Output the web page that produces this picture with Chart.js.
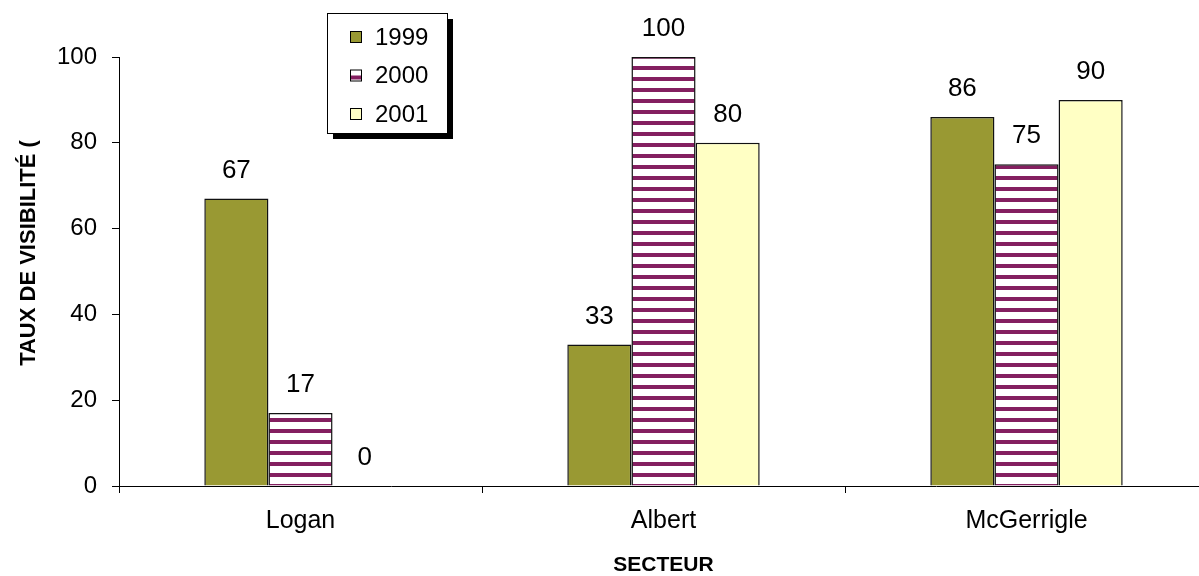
<!DOCTYPE html>
<html>
<head>
<meta charset="utf-8">
<script src="https://cdn.jsdelivr.net/npm/chart.js@4/dist/chart.umd.min.js"></script>
<style>
  html, body { margin: 0; padding: 0; background: #fff; overflow: hidden; }
  #wrap { width: 1208px; height: 576px; }
</style>
</head>
<body>
<div id="wrap"><canvas id="chart" width="1208" height="576"></canvas></div>
<script>
// Chart data
const sectors = ['Logan', 'Albert', 'McGerrigle'];
const years = ['1999', '2000', '2001'];
const values1999 = [67, 33, 86];
const values2000 = [17, 100, 75];
const values2001 = [0, 80, 90];
const yTicks = [0, 20, 40, 60, 80, 100];

const FONT = '"Liberation Sans", Arial, sans-serif';
const OLIVE = '#999933';
const PURPLE = '#841f60';
const CREAM = '#ffffc4';

// horizontal stripes for the 2000 series
function makeStripes() {
  const c = document.createElement('canvas');
  c.width = 8;
  c.height = 11;
  const g = c.getContext('2d');
  g.fillStyle = '#fff';
  g.fillRect(0, 0, 8, 11);
  g.fillStyle = PURPLE;
  g.fillRect(0, 0, 8, 4);
  return g.createPattern(c, 'repeat');
}
const stripes = makeStripes();

// value labels above each bar
const valueLabels = {
  id: 'valueLabels',
  afterDatasetsDraw(chart) {
    const ctx = chart.ctx;
    ctx.save();
    ctx.font = '26px ' + FONT;
    ctx.fillStyle = '#000';
    ctx.textAlign = 'center';
    ctx.textBaseline = 'middle';
    chart.data.datasets.forEach((ds, i) => {
      chart.getDatasetMeta(i).data.forEach((bar, j) => {
        ctx.fillText(String(ds.data[j]), bar.x, bar.y - 28);
      });
    });
    ctx.restore();
  }
};

// boxed legend with shadow + y title
const boxLegend = {
  id: 'boxLegend',
  afterDraw(chart) {
    const ctx = chart.ctx;
    ctx.save();
    // y axis title (cut off in the original)
    ctx.translate(29, 253);
    ctx.rotate(-Math.PI / 2);
    ctx.font = 'bold 22px ' + FONT;
    ctx.fillStyle = '#000';
    ctx.textAlign = 'center';
    ctx.textBaseline = 'middle';
    ctx.fillText('TAUX DE VISIBILITÉ (', 0, 0);
    ctx.restore();

    ctx.save();
    const x = 327, y = 13, w = 120, h = 120;
    ctx.fillStyle = '#000';
    ctx.fillRect(x + 6, y + 6, w, h);
    ctx.fillStyle = '#fff';
    ctx.fillRect(x, y, w, h);
    ctx.strokeStyle = '#000';
    ctx.lineWidth = 1;
    ctx.strokeRect(x + 0.5, y + 0.5, w, h);
    ctx.font = '24px ' + FONT;
    ctx.textBaseline = 'middle';
    chart.data.datasets.forEach((ds, i) => {
      const cy = 37 + i * 38.5;
      const sx = 350, sy = cy - 6;
      if (i === 1) {
        ctx.fillStyle = '#fff';
        ctx.fillRect(sx, sy, 12, 12);
        ctx.fillStyle = PURPLE;
        ctx.fillRect(sx, sy + 6, 12, 4);
      } else {
        ctx.fillStyle = ds.backgroundColor;
        ctx.fillRect(sx, sy, 12, 12);
      }
      ctx.strokeStyle = '#000';
      ctx.strokeRect(sx + 0.5, sy + 0.5, 11, 11);
      ctx.fillStyle = '#000';
      ctx.fillText(ds.label, 375, cy + 1);
    });
    ctx.restore();
  }
};

new Chart(document.getElementById('chart'), {
  type: 'bar',
  data: {
    labels: sectors,
    datasets: [
      { label: years[0], data: values1999, backgroundColor: OLIVE },
      { label: years[1], data: values2000, backgroundColor: stripes },
      { label: years[2], data: values2001, backgroundColor: CREAM }
    ].map(d => Object.assign(d, {
      borderColor: '#111',
      borderWidth: 1.5,
      barPercentage: 1,
      categoryPercentage: 0.53
    }))
  },
  options: {
    responsive: false,
    animation: false,
    layout: { padding: { top: 57, right: 0, left: 0, bottom: 0 } },
    plugins: {
      legend: { display: false },
      tooltip: { enabled: false }
    },
    scales: {
      x: {
        afterFit: s => { s.height = 90; },
        grid: { drawOnChartArea: false, drawTicks: true, tickLength: 7, color: '#000', offset: true },
        border: { color: '#000', width: 1 },
        ticks: { color: '#000', font: { family: FONT, size: 25 }, padding: 13 },
        title: {
          display: true, text: 'SECTEUR', color: '#000',
          font: { family: FONT, size: 21, weight: 'bold', lineHeight: 1 },
          padding: { top: 0, bottom: 0 }
        }
      },
      y: {
        min: 0,
        max: 100,
        afterFit: s => { s.width = 119; },
        afterBuildTicks: s => { s.ticks = yTicks.map(v => ({ value: v })); },
        grid: { drawOnChartArea: false, drawTicks: true, tickLength: 7, color: '#000' },
        border: { color: '#000', width: 1 },
        ticks: { color: '#000', font: { family: FONT, size: 24 }, padding: 15 }
      }
    }
  },
  plugins: [valueLabels, boxLegend]
});
</script>
</body>
</html>
